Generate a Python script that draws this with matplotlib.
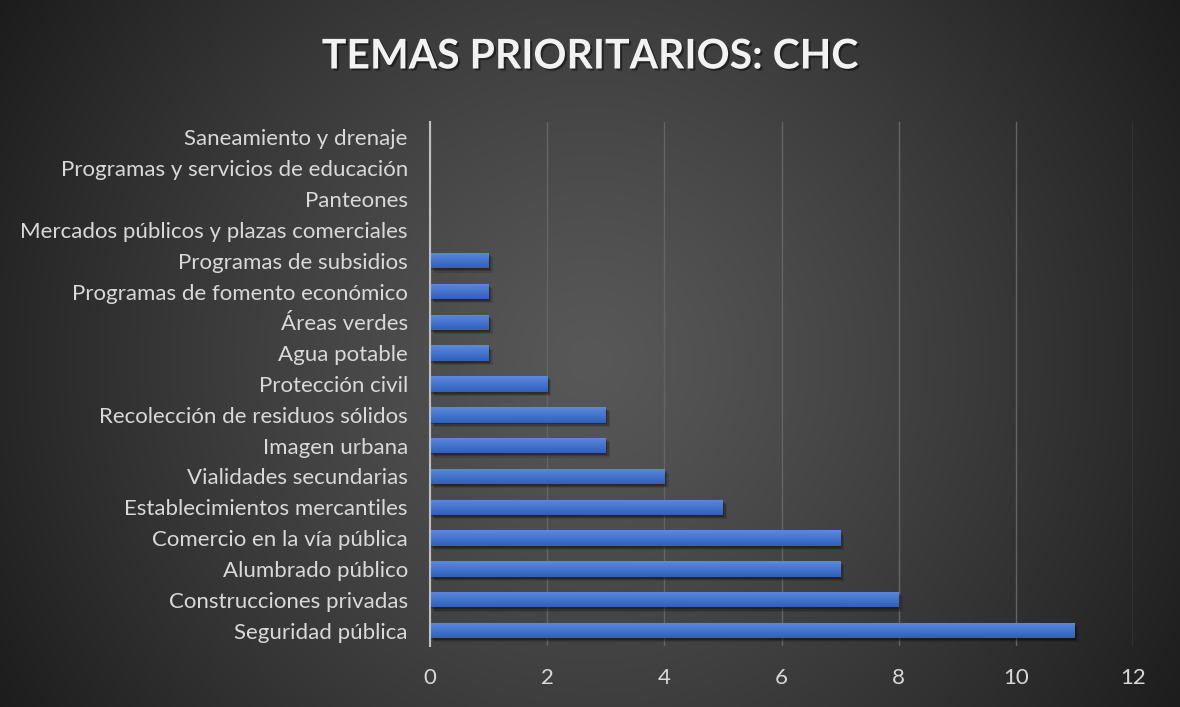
import numpy as np
import matplotlib
matplotlib.use("Agg")
import matplotlib.pyplot as plt
import matplotlib.patheffects as pe

categories = [
    "Saneamiento y drenaje",
    "Programas y servicios de educación",
    "Panteones",
    "Mercados públicos y plazas comerciales",
    "Programas de subsidios",
    "Programas de fomento económico",
    "Áreas verdes",
    "Agua potable",
    "Protección civil",
    "Recolección de residuos sólidos",
    "Imagen urbana",
    "Vialidades secundarias",
    "Establecimientos mercantiles",
    "Comercio en la vía pública",
    "Alumbrado público",
    "Construcciones privadas",
    "Seguridad pública",
]
values = [0, 0, 0, 0, 1, 1, 1, 1, 2, 3, 3, 4, 5, 7, 7, 8, 11]
xticks = [0, 2, 4, 6, 8, 10, 12]
title = "TEMAS PRIORITARIOS: CHC"

plt.rcParams['font.family'] = ['Lato', 'DejaVu Sans']

W, H = 1180, 707
fig = plt.figure(figsize=(W / 100, H / 100), dpi=100)

# radial gradient background
bg = fig.add_axes([0, 0, 1, 1], zorder=0)
yy, xx = np.mgrid[0:H, 0:W]
cx, cy = 590, 360
r = np.sqrt((xx - cx) ** 2 + (yy - cy) ** 2) / np.sqrt(cx ** 2 + cy ** 2)
c0 = np.array([0x58, 0x58, 0x58]) / 255
c1 = np.array([0x1c, 0x1c, 0x1c]) / 255
t = np.clip(r, 0, 1)[..., None] ** 1.2
img = c0 * (1 - t) + c1 * t
bg.imshow(img, aspect='auto', extent=[0, 1, 0, 1], origin='upper')
bg.set_axis_off()

ax = fig.add_axes([430 / W, 1 - 646 / H, (1133 - 430) / W, (646 - 122) / H], zorder=1)
ax.patch.set_alpha(0)

n = len(categories)
ypos = np.arange(n)[::-1]
bars = ax.barh(ypos, values, height=0.5, color='#4472C4', zorder=3)

# soft shadows and gradient fill
grad = np.linspace(0, 1, 64)[:, None]
top = np.array([0x5f, 0x8a, 0xdb]) / 255
bot = np.array([0x2e, 0x60, 0xbe]) / 255
gimg = top * (1 - grad[..., None]) + bot * grad[..., None]
for b in bars:
    w = b.get_width()
    if w <= 0:
        continue
    b.set_path_effects([
        pe.SimplePatchShadow(offset=(3.0, -3.0), shadow_rgbFace='black', alpha=0.12),
        pe.SimplePatchShadow(offset=(2.0, -2.2), shadow_rgbFace='black', alpha=0.18),
        pe.SimplePatchShadow(offset=(1.0, -1.4), shadow_rgbFace='black', alpha=0.25),
        pe.Normal()])
    x0, y0 = b.get_x(), b.get_y()
    h = b.get_height()
    im = ax.imshow(gimg, aspect='auto', extent=[x0, x0 + w, y0, y0 + h], origin='upper', zorder=4)
    im.set_clip_path(b)

ax.set_xlim(0, 12)
ax.set_ylim(-0.5, n - 0.5)
ax.set_xticks(xticks)
ax.set_xticklabels([str(v) for v in xticks])
ax.set_yticks(ypos)
ax.set_yticklabels(categories)
ax.tick_params(axis='both', length=0, colors='#d9d9d9', labelsize=16)
ax.tick_params(axis='x', pad=16)
ax.tick_params(axis='y', pad=16)
for s in ['top', 'right', 'bottom']:
    ax.spines[s].set_visible(False)
ax.spines['left'].set_color('#bfbfbf')
ax.spines['left'].set_linewidth(1.5)
ax.spines['left'].set_zorder(5)
ax.xaxis.grid(True, color='#646464', linewidth=1.0, zorder=0)
ax.set_axisbelow(True)

fig.text(590 / W, 1 - 57 / H, title, ha='center', va='center', fontsize=29.5,
         fontweight='bold', color='#f2f2f2',
         path_effects=[pe.withSimplePatchShadow(offset=(1.5, -1.5), shadow_rgbFace='black', alpha=0.45)])

fig.savefig('out.png', dpi=100)
